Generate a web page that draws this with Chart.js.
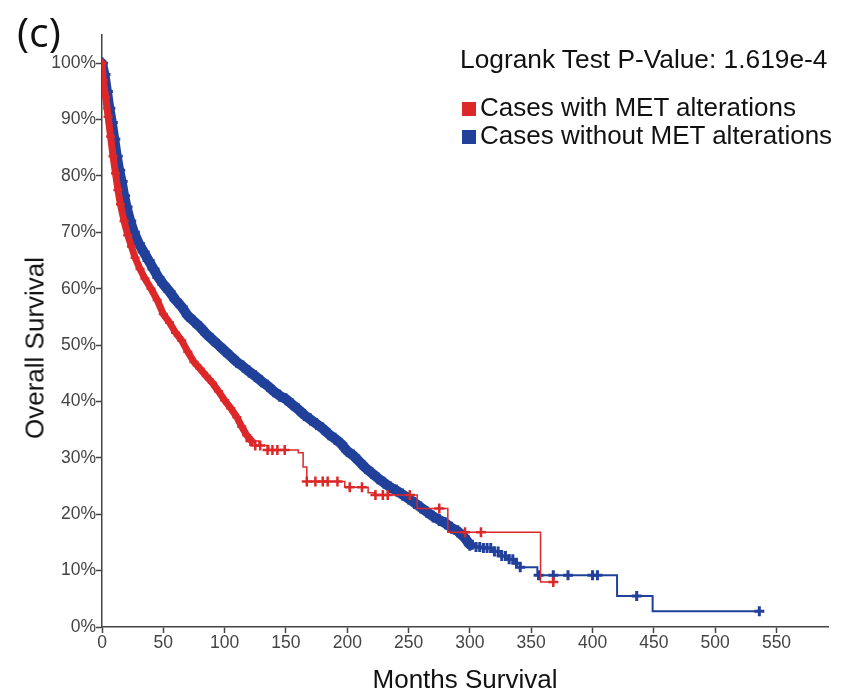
<!DOCTYPE html>
<html>
<head>
<meta charset="utf-8">
<script src="https://cdn.jsdelivr.net/npm/chart.js@4/dist/chart.umd.min.js"></script>
<style>
  html, body { margin: 0; padding: 0; background: #fff; }
  #wrap { position: relative; width: 841px; height: 692px; }
  #grafico { position: absolute; left: 0; top: 0; }
  .txt { position: absolute; font-family: 'Liberation Sans', Arial, sans-serif; color: #111; white-space: nowrap; }
  #panel { left: 17px; top: 8px; font-family: 'Open Sans', sans-serif; font-size: 41px; line-height: 46px; }
  #ytitulo { left: 35px; top: 348px; font-size: 26px; transform: translate(-50%, -50%) rotate(-90deg); }
  #pvalor { left: 460px; top: 44px; font-size: 26.3px; }
  .leyenda { left: 462px; font-size: 26px; line-height: 28px; }
  .leyenda span { display: inline-block; width: 14px; height: 14px; margin-right: 4px; vertical-align: 0px; }
</style>
</head>
<body>
<div id="wrap">
  <canvas id="grafico" width="841" height="692"></canvas>
  <div class="txt" id="panel">(c)</div>
  <div class="txt" id="ytitulo">Overall Survival</div>
  <div class="txt" id="pvalor">Logrank Test P-Value: 1.619e-4</div>
  <div class="txt leyenda" style="top:93px"><span style="background:#dc2828"></span>Cases with MET alterations</div>
  <div class="txt leyenda" style="top:121px"><span style="background:#21409a"></span>Cases without MET alterations</div>
</div>
<script>
// Curva con alteraciones MET (tramo denso, muchos censurados)
const rojoDenso_meses = [0, 1, 3, 5, 7, 9, 11, 13, 15, 18, 21, 24, 27, 31, 35, 40, 45, 50, 55, 60, 65, 70, 75, 80, 85, 90, 95, 100, 105, 110, 114, 118, 122];
const rojoDenso_surv = [100, 97, 94, 90.5, 87, 83.5, 80.5, 77.5, 75, 72, 69.5, 67.5, 65.5, 63.5, 61.8, 60, 58, 55.5, 54, 52.2, 50.8, 48.8, 47, 45.8, 44.5, 43.3, 41.8, 40.2, 38.8, 37.2, 35.5, 34, 33];

// Escalones del tramo final
const rojoPasos_meses = [122, 128, 136, 160, 164, 167, 198, 217, 222, 257, 282, 357.6, 368];
const rojoPasos_surv = [33, 32.2, 31.4, 30.9, 28.4, 25.8, 24.8, 23.8, 23.4, 21, 16.8, 8, 8];

// Censurados sueltos
const rojoCens_meses = [121, 125, 129, 135, 139, 143, 149, 167, 174, 180, 184, 192, 202, 212, 223, 229, 233, 251, 275, 296, 309, 368];
const rojoCens_surv = [33, 32.2, 32.2, 31.4, 31.4, 31.4, 31.4, 25.8, 25.8, 25.8, 25.8, 25.8, 24.8, 24.8, 23.4, 23.4, 23.4, 23.4, 21, 16.8, 16.8, 8];

// Curva sin alteraciones MET
const azulDenso_meses = [0, 2, 4, 6, 8, 10, 12, 14, 16, 18, 20, 23, 26, 30, 34, 38, 42, 46, 50, 55, 60, 65, 70, 75, 80, 85, 90, 95, 100, 105, 110, 115, 120, 125, 130, 135, 140, 145, 150, 155, 160, 165, 170, 175, 180, 185, 190, 195, 200, 205, 210, 215, 220, 225, 230, 235, 240, 245, 250, 255, 260, 265, 270, 275, 280, 285, 290, 295, 300];
const azulDenso_surv = [100, 98, 95, 92, 89.5, 86.5, 83.5, 81, 79, 76.5, 74.5, 72, 70, 68, 66.5, 65, 63.5, 62, 60.8, 59.5, 58, 56.8, 55.2, 54.2, 53.2, 52, 51, 50, 49, 48, 47, 46.2, 45.3, 44.5, 43.6, 42.8, 41.8, 41, 40.4, 39.5, 38.6, 37.6, 36.8, 36, 35.2, 34.2, 33.4, 32.5, 31.2, 30.4, 29.3, 28.2, 27.3, 26.4, 25.6, 24.8, 24.2, 23.5, 22.8, 22, 21.2, 20.4, 19.6, 19, 18.4, 17.6, 17, 16, 14.6];

const azulPasos_meses = [300, 305, 312, 318, 325, 331, 336, 341, 355, 420, 449, 536];
const azulPasos_surv = [14.6, 14.2, 14, 13.4, 12.6, 12, 11.3, 10.6, 9.2, 5.5, 2.8, 2.8];

const azulCens_meses = [302, 305, 308, 311, 314, 317, 320, 323, 326, 329, 332, 335, 338, 341, 356, 368, 380, 400, 404, 436, 536];
const azulCens_surv = [14.6, 14.2, 14.2, 14, 14, 14, 13.4, 13.4, 12.6, 12.6, 12, 12, 11.3, 10.6, 9.2, 9.2, 9.2, 9.2, 9.2, 5.5, 2.8];

const ticksX = [0, 50, 100, 150, 200, 250, 300, 350, 400, 450, 500, 550];

const ROJO = '#dc2828';
const AZUL = '#21409a';
const GRIS = '#444';
const FUENTE = 'Liberation Sans, Arial, sans-serif';

function puntos(meses, surv) {
    return meses.map((m, i) => ({ x: m, y: surv[i] }));
}

const ctx = document.getElementById('grafico').getContext('2d');

new Chart(ctx, {
    type: 'scatter',
    data: {
        datasets: [
            {
                label: 'red steps',
                data: puntos(rojoPasos_meses, rojoPasos_surv),
                showLine: true,
                stepped: 'before',
                borderColor: ROJO,
                borderWidth: 1.5,
                pointRadius: 0
            },
            {
                label: 'red censored',
                data: puntos(rojoCens_meses, rojoCens_surv),
                pointStyle: 'cross',
                pointRadius: 5,
                borderColor: ROJO,
                pointBorderWidth: 2.5
            },
            {
                label: 'red band',
                data: puntos(rojoDenso_meses, rojoDenso_surv),
                showLine: true,
                borderColor: ROJO,
                borderWidth: 7,
                borderCapStyle: 'round',
                borderJoinStyle: 'round',
                pointStyle: 'cross',
                pointRadius: 4.5,
                pointBorderWidth: 2.5
            },
            {
                label: 'blue steps',
                data: puntos(azulPasos_meses, azulPasos_surv),
                showLine: true,
                stepped: 'before',
                borderColor: AZUL,
                borderWidth: 2,
                pointRadius: 0
            },
            {
                label: 'blue censored',
                data: puntos(azulCens_meses, azulCens_surv),
                pointStyle: 'cross',
                pointRadius: 5,
                borderColor: AZUL,
                pointBorderWidth: 3
            },
            {
                label: 'blue band',
                data: puntos(azulDenso_meses, azulDenso_surv),
                showLine: true,
                borderColor: AZUL,
                borderWidth: 10,
                borderCapStyle: 'round',
                borderJoinStyle: 'round',
                pointStyle: 'cross',
                pointRadius: 6,
                pointBorderWidth: 3
            }
        ]
    },
    options: {
        responsive: false,
        animation: false,
        events: [],
        layout: { padding: { left: 0, right: 13, top: 35, bottom: 0 } },
        plugins: {
            legend: { display: false },
            tooltip: { enabled: false }
        },
        scales: {
            x: {
                type: 'linear',
                min: 0,
                max: 592,
                afterFit: s => { s.height = 65; },
                afterBuildTicks: s => { s.ticks = ticksX.map(v => ({ value: v })); },
                ticks: {
                    color: GRIS,
                    font: { family: FUENTE, size: 17.5 },
                    padding: 0,
                    maxRotation: 0
                },
                grid: { drawOnChartArea: false, tickLength: 6, color: GRIS, tickWidth: 1.5 },
                border: { color: GRIS, width: 1.5 },
                title: {
                    display: true,
                    text: 'Months Survival',
                    color: '#111',
                    font: { family: FUENTE, size: 26, lineHeight: 1 },
                    padding: { top: 0, bottom: -2 }
                }
            },
            y: {
                type: 'linear',
                min: 0,
                max: 105,
                afterFit: s => { s.width = 102; },
                ticks: {
                    stepSize: 10,
                    includeBounds: false,
                    color: GRIS,
                    font: { family: FUENTE, size: 17.5 },
                    padding: 0,
                    callback: v => v + '%'
                },
                grid: { drawOnChartArea: false, tickLength: 6, color: GRIS, tickWidth: 1.5 },
                border: { color: GRIS, width: 1.5 }
            }
        }
    }
});
</script>
</body>
</html>
